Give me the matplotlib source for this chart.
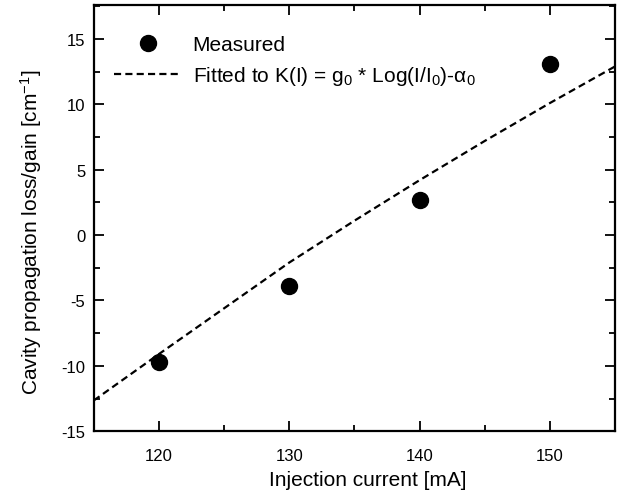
import matplotlib
matplotlib.use("Agg")
import matplotlib.pyplot as plt
from matplotlib.ticker import MultipleLocator

plt.rcParams['font.family'] = ['Liberation Sans', 'DejaVu Sans']
plt.rcParams['mathtext.fontset'] = 'custom'
plt.rcParams['mathtext.rm'] = 'Liberation Sans'
plt.rcParams['mathtext.it'] = 'Liberation Sans:italic'
plt.rcParams['mathtext.default'] = 'regular'
plt.rcParams['axes.unicode_minus'] = False

# measured points
current = [120, 130, 140, 150]
gain = [-9.7, -3.9, 2.7, 13.1]

# fitted curve
fit_current = [115, 120, 125, 130, 135, 140, 145, 150, 155]
fit_gain = [-12.65, -9.1, -5.6, -2.1, 1.1, 4.2, 7.2, 10.1, 12.9]

fig = plt.figure(figsize=(6.25, 5.02), dpi=100)
ax = fig.add_axes([0.150, 0.139, 0.834, 0.849])

ax.plot(current, gain, 'o', color='black', markersize=11.5, label='Measured')
ax.plot(fit_current, fit_gain, '--', color='black', lw=1.6, dashes=(3.2, 1.9),
        label='Fitted to K(I) = g$_0$ * Log(I/I$_0$)-$\\alpha_0$')

ax.set_xlim(115, 155)
ax.set_ylim(-15, 17.6)
ax.xaxis.set_major_locator(MultipleLocator(10))
ax.xaxis.set_minor_locator(MultipleLocator(5))
ax.yaxis.set_major_locator(MultipleLocator(5))
ax.yaxis.set_minor_locator(MultipleLocator(2.5))
ax.tick_params(which='both', direction='in', right=True, top=True, labelsize=12, width=1.3)
ax.tick_params(which='major', length=7)
ax.tick_params(which='minor', length=4)
ax.tick_params(axis='x', which='major', pad=12)
ax.tick_params(axis='y', which='major', pad=6)
for s in ax.spines.values():
    s.set_linewidth(1.6)

ax.set_xlabel('Injection current [mA]', fontsize=15, labelpad=3)
ax.set_ylabel('Cavity propagation loss/gain [cm$^{-1}$]', fontsize=15, labelpad=9)
ax.xaxis.set_label_coords(0.525, -0.09)
ax.yaxis.set_label_coords(-0.095, 0.47)

ax.legend(loc='upper left', frameon=False, fontsize=15, handlelength=3.3,
          handletextpad=0.5, borderaxespad=0, borderpad=0, labelspacing=0.5,
          bbox_to_anchor=(0.038, 0.93))

fig.savefig('out.png', dpi=100)
